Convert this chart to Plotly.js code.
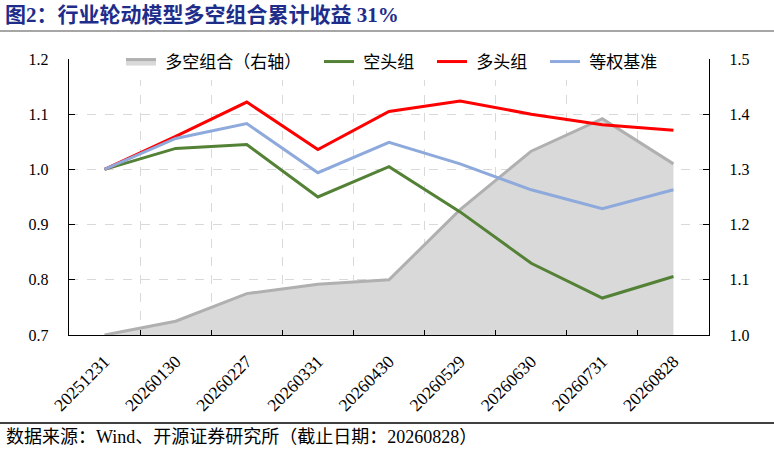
<!DOCTYPE html>
<html>
<head>
<meta charset="utf-8">
<script src="https://cdn.plot.ly/plotly-3.0.1.min.js"></script>
<style>html,body{margin:0;padding:0;background:#fff}#chart{width:774px;height:450px}</style>
</head>
<body>
<div id="chart"></div>
<script>
const dates = ["20251231","20260130","20260227","20260331","20260430","20260529","20260630","20260731","20260828"];
const longShort = [1.000,1.025,1.075,1.092,1.100,1.227,1.333,1.392,1.310];
const shortGroup = [1.000,1.038,1.045,0.950,1.005,0.923,0.830,0.767,0.806];
const longGroup = [1.000,1.060,1.122,1.036,1.105,1.124,1.100,1.081,1.071];
const benchmark = [1.000,1.056,1.083,0.994,1.049,1.010,0.963,0.929,0.963];
const names = ["多空组合（右轴）","空头组","多头组","等权基准"];
const leftTicks = [0.7,0.8,0.9,1.0,1.1,1.2];
const rightTicks = [1.0,1.1,1.2,1.3,1.4,1.5];

const FONT = "Liberation Serif, 'Noto Sans CJK SC', serif";
const L = 69, R = 709, T = 59, B = 335, W = 774;
const px = x => (x - L) / (R - L);
const py = y => (B - y) / (B - T);
const pad = n => '&nbsp;' + n + '&nbsp;&nbsp;&nbsp;';

const traces = [
  {x: dates, y: longShort, name: pad(names[0]), type: 'scatter', mode: 'lines', yaxis: 'y',
   fill: 'tozeroy', fillcolor: '#D9D9D9', line: {color: '#B0B0B0', width: 3}},
  {x: dates, y: shortGroup, name: pad(names[1]), type: 'scatter', mode: 'lines', yaxis: 'y2',
   line: {color: '#538135', width: 3}},
  {x: dates, y: longGroup, name: pad(names[2]), type: 'scatter', mode: 'lines', yaxis: 'y2',
   line: {color: '#FF0000', width: 3}},
  {x: dates, y: benchmark, name: pad(names[3]), type: 'scatter', mode: 'lines', yaxis: 'y2',
   line: {color: '#8EA9DB', width: 3}}
];

const layout = {
  width: 774, height: 450,
  margin: {l: L, r: W - R, t: T, b: 450 - B, pad: 0},
  paper_bgcolor: '#fff', plot_bgcolor: '#fff',
  font: {family: FONT, size: 16, color: '#000'},
  showlegend: true,
  legend: {orientation: 'h', x: px(398), xanchor: 'center', y: py(62), yanchor: 'middle',
    bgcolor: '#fff', font: {family: FONT, size: 17, color: '#000'}, traceorder: 'normal',
    itemwidth: 30, tracegroupgap: 0},
  xaxis: {type: 'category', range: [-0.5, 8.5], tickson: 'boundaries',
    showgrid: true, gridcolor: '#D9D9D9', griddash: 'dash', gridwidth: 1,
    showline: true, linecolor: '#000', linewidth: 1.3, ticks: 'inside', ticklen: 5, tickcolor: '#000',
    tickangle: -45, tickfont: {family: FONT, size: 17.5}, ticklabelstandoff: 8, zeroline: false},
  yaxis: {side: 'right', range: [1.0, 1.5], tickvals: rightTicks,
    ticktext: rightTicks.map(v => v.toFixed(1)),
    showgrid: true, gridcolor: '#D9D9D9', griddash: 'dash', gridwidth: 1,
    showline: true, linecolor: '#000', linewidth: 1.3, ticks: 'inside', ticklen: 6, tickcolor: '#000',
    tickfont: {family: FONT, size: 16}, ticklabelstandoff: 16, zeroline: false},
  yaxis2: {overlaying: 'y', side: 'left', range: [0.7, 1.2], tickvals: leftTicks,
    ticktext: leftTicks.map(v => v.toFixed(1)),
    showgrid: false, showline: true, linecolor: '#000', linewidth: 1.3,
    ticks: 'inside', ticklen: 6, tickcolor: '#000',
    tickfont: {family: FONT, size: 16}, ticklabelstandoff: 16, zeroline: false},
  shapes: [
    {type: 'line', xref: 'paper', yref: 'paper', x0: px(0), x1: px(W), y0: py(31), y1: py(31),
     line: {color: '#A6A6A6', width: 2}},
    {type: 'line', xref: 'paper', yref: 'paper', x0: px(0), x1: px(W), y0: py(423), y1: py(423),
     line: {color: '#000', width: 1.3}}
  ],
  annotations: [
    {text: '<b>图2：行业轮动模型多空组合累计收益 31%</b>', xref: 'paper', yref: 'paper',
     x: px(3), y: py(15), xanchor: 'left', yanchor: 'middle', showarrow: false,
     font: {family: FONT, size: 21, color: '#1F2D8A'}},
    {text: '数据来源：Wind、开源证券研究所（截止日期：20260828）', xref: 'paper', yref: 'paper',
     x: px(4), y: py(437), xanchor: 'left', yanchor: 'middle', showarrow: false,
     font: {family: FONT, size: 18, color: '#000'}}
  ]
};

Plotly.newPlot('chart', traces, layout, {displayModeBar: false, staticPlot: true});
</script>
</body>
</html>
